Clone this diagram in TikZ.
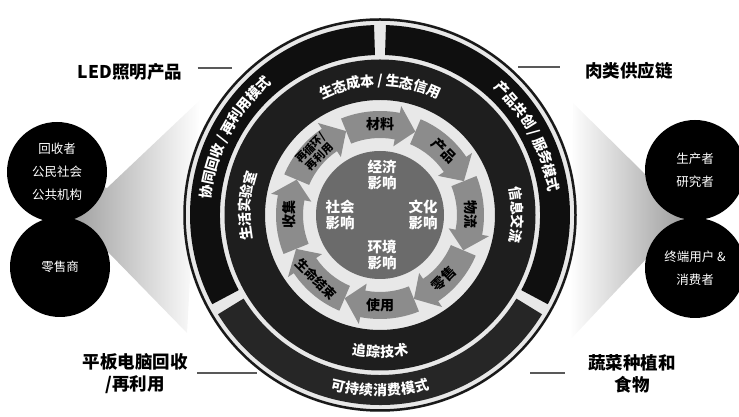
\documentclass[tikz,border=0pt]{standalone}
\usepackage{fontspec}
\setmainfont{Noto Sans CJK SC}
\usetikzlibrary{decorations.text}

\definecolor{segblack}{HTML}{0F0F0F}
\definecolor{bottomseg}{HTML}{262626}
\definecolor{ringblack}{HTML}{1E1E1E}
\definecolor{lightbg}{HTML}{E8E8E8}
\definecolor{arrowgray}{HTML}{8C8C8C}
\definecolor{discgray}{HTML}{6B6B6B}

\newcommand\ringfont{\fontsize{14}{16}\selectfont\bfseries}

\tikzset{
  actor/.style={circle, fill=black, minimum size=100pt, inner sep=0pt,
    text=white, align=center, font=\fontsize{12.5}{23}\selectfont},
  caption/.style={align=center, font=\fontsize{17.5}{22}\selectfont\bfseries},
  capline/.style={draw=black!65, line width=1.2pt},
  impact/.style={text=white, align=center, font=\fontsize{14.5}{16}\selectfont\bfseries},
  steplabel/.style={text=black, align=center, font=\fontsize{14}{15}\selectfont\bfseries},
  ringtext/.style={decorate, decoration={text along path, text align=center,
    text color=white, raise=-5pt, text={|\ringfont|#1}}},
}

\begin{document}
\begin{tikzpicture}[x=1pt,y=1pt]
  \useasboundingbox (0,0) rectangle (739,417);

  % light fans towards the circles
  \shade[left color=black!42, right color=white]
    (57,245) -- (107,229) -- (200,317) -- (187,84) -- (108,165) -- (60,150) -- cycle;
  \shade[left color=white, right color=black!42]
    (695,247) -- (648,240) -- (573,314) -- (570,77) -- (648,160) -- (695,149) -- cycle;

  % captions
  \node[caption] (led) at (130,345) {LED照明产品};
  \node[caption] (meat) at (629,346) {肉类供应链};
  \node[caption] (tablet) at (135,43) {平板电脑回收\\/再利用};
  \node[caption] (veg) at (632,43) {蔬菜种植和\\食物};
  \coordinate (ledend) at (232,349);
  \coordinate (meatend) at (518,350);
  \coordinate (tabletend) at (257,44);
  \coordinate (vegend) at (530,44);
  \draw[capline] (led.east |- ledend) ++(12,0) -- (ledend);
  \draw[capline] (meat.west |- meatend) ++(-22,0) -- (meatend);
  \draw[capline] (tablet.east |- tabletend) ++(6,0) -- (tabletend);
  \draw[capline] (veg.west |- vegend) ++(-20,0) -- (vegend);

  \begin{scope}[shift={(380,202)}]
    % rings
    \fill[lightbg] (0,0) circle[radius=197];
    \draw[black!90, line width=2.5pt] (0,0) circle[radius=195.5];
    \fill[segblack] (91.8:190) arc[start angle=91.8, end angle=208, radius=190]
      -- (208:160) arc[start angle=208, end angle=91.8, radius=160] -- cycle;
    \fill[segblack] (88.2:190) arc[start angle=88.2, end angle=-28, radius=190]
      -- (-28:160) arc[start angle=-28, end angle=88.2, radius=160] -- cycle;
    \fill[bottomseg] (211.5:190) arc[start angle=211.5, end angle=328.5, radius=190]
      -- (328.5:160) arc[start angle=328.5, end angle=211.5, radius=160] -- cycle;
    \fill[ringblack, even odd rule] (0,0) circle[radius=155.5] (0,0) circle[radius=115];

    % cycle of steps
    \foreach \a in {90,45,...,-225}
      \fill[arrowgray] ({\a+22}:104) arc[start angle=\a+22, end angle=\a-11, radius=104]
        -- ({\a-11}:111) -- ({\a-23}:90.5) -- ({\a-11}:70)
        -- ({\a-11}:77) arc[start angle=\a-11, end angle=\a+22, radius=77] -- cycle;

    \node[steplabel] (material) at (90:90.5) {材料};
    \node[steplabel, rotate=-45] (product) at (45:90.5) {产品};
    \node[steplabel, rotate=-90] (logistics) at (0:90.5) {物流};
    \node[steplabel, rotate=45] (retail) at (-45:90.5) {零售};
    \node[steplabel] (use) at (-90:90.5) {使用};
    \node[steplabel, rotate=-45, font=\fontsize{13}{15}\selectfont\bfseries]
      (endoflife) at (-135:90.5) {生命结束};
    \node[steplabel, rotate=90] (collect) at (180:90.5) {收集};
    \node[steplabel, rotate=45, font=\fontsize{11}{12.5}\selectfont\bfseries]
      (recycle) at (136:90.5) {再循环/\\再利用};

    % impacts
    \fill[discgray] (0,0) circle[radius=64];
    \node[impact] (economic) at (2,40) {经济\\影响};
    \node[impact] (social) at (-40,0) {社会\\影响};
    \node[impact] (cultural) at (43,0) {文化\\影响};
    \node[impact] (environment) at (2,-40) {环境\\影响};

    % ring texts
    \path[ringtext={生态成本 / 生态信用}] (150:134) arc[start angle=150, end angle=30, radius=134];
    \path[ringtext={信息交流}] (30:137) arc[start angle=30, end angle=-30, radius=137];
    \path[ringtext={生活实验室}] (206:135) arc[start angle=206, end angle=146, radius=135];
    \path[ringtext={追踪技术}] (-120:137) arc[start angle=-120, end angle=-60, radius=137];
    \path[ringtext={协同回收 / 再利用模式}] (200:175) arc[start angle=200, end angle=104, radius=175];
    \path[ringtext={产品共创 / 服务模式}] (76:175) arc[start angle=76, end angle=-20, radius=175];
    \path[ringtext={可持续消费模式}] (-130:176) arc[start angle=-130, end angle=-50, radius=176];
  \end{scope}

  % stakeholders
  \node[actor] (recyclers) at (57,245) {回收者\\公民社会\\公共机构};
  \node[actor] (retailer) at (60,150) {零售商};
  \node[actor] (producers) at (695,247) {生产者\\研究者};
  \node[actor] (endusers) at (695,149) {终端用户 \&\\消费者};
\end{tikzpicture}
\end{document}
